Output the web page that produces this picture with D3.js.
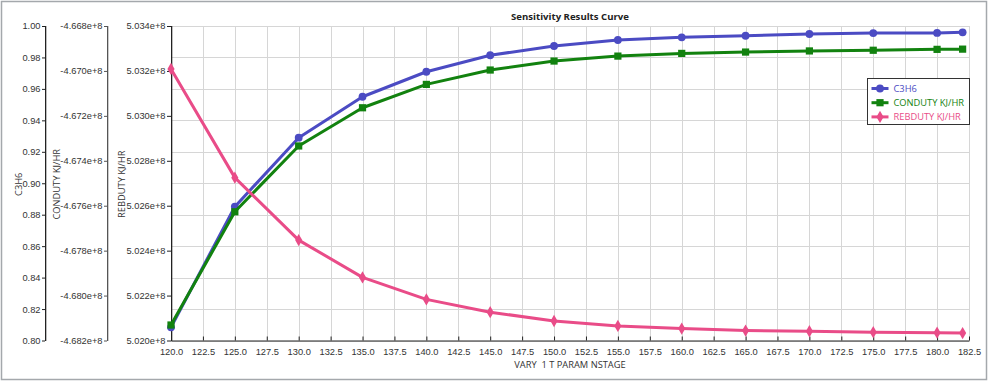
<!DOCTYPE html>
<meta charset="utf-8">
<script src="https://d3js.org/d3.v7.min.js"></script>
<style>
   body {
      margin: 0;
      padding: 0;
      background-color: white;
      font-family: "Segoe UI", "Open Sans", sans-serif;
   }
   .axis text { font-size: 9.3px; fill: #333; }
   .axis path, .axis line { stroke: #222; }
   .axis.grey path, .axis.grey line { stroke: #555; }
</style>
<body>
<svg id="chart" width="993" height="382"></svg>
<script>
   // Sensitivity results
   var stages = [120, 125, 130, 135, 140, 145, 150, 155, 160, 165, 170, 175, 180, 182];
   var c3h6 = [0.8084, 0.8851, 0.9290, 0.9550, 0.9709, 0.9814, 0.9873, 0.9911, 0.9928, 0.9938, 0.9949, 0.9955, 0.9956, 0.9960];
   var conduty = [-468131000, -467627000, -467334000, -467164000, -467060000, -466996000, -466956000,
                  -466934000, -466922000, -466916000, -466911000, -466908000, -466904000, -466903000];
   var rebduty = [503209000, 502725000, 502447000, 502281000, 502183000, 502126000, 502087000,
                  502065000, 502053000, 502044000, 502041000, 502037000, 502035000, 502033000];

   var xTicks = [120, 122.5, 125, 127.5, 130, 132.5, 135, 137.5, 140, 142.5, 145, 147.5, 150, 152.5, 155,
                 157.5, 160, 162.5, 165, 167.5, 170, 172.5, 175, 177.5, 180, 182.5];
   var c3h6Ticks = [0.80, 0.82, 0.84, 0.86, 0.88, 0.90, 0.92, 0.94, 0.96, 0.98, 1.00];
   var condTicks = [-468200000, -468000000, -467800000, -467600000, -467400000, -467200000, -467000000, -466800000];
   var rebTicks = [502000000, 502200000, 502400000, 502600000, 502800000, 503000000, 503200000, 503400000];

   var seriesNames = ["C3H6", "CONDUTY KJ/HR", "REBDUTY KJ/HR"];
   var colors = ["#4b4bc3", "#12820f", "#e94c88"];

   var svg = d3.select("#chart");
   var plotLeft = 171, plotRight = 969, plotTop = 26, plotBottom = 340.5;

   // outer frame
   svg.append("rect")
      .attr("x", 1.5).attr("y", 1.5)
      .attr("width", 985).attr("height", 378)
      .attr("fill", "white")
      .attr("stroke", "#a4a8ac")
      .attr("stroke-width", 1.5);

   var x = d3.scaleLinear().domain([120, 182.5]).range([plotLeft, plotRight]);
   var yC = d3.scaleLinear().domain([0.8, 1.0]).range([plotBottom, plotTop]);
   var yCond = d3.scaleLinear().domain([-468200000, -466800000]).range([plotBottom, plotTop]);
   var yReb = d3.scaleLinear().domain([502000000, 503400000]).range([plotBottom, plotTop]);

   var sci = function (d) { return d3.format(".3e")(d).replace("\u2212", "-"); };

   // grid
   var grid = svg.append("g");
   grid.selectAll("hline")
      .data(c3h6Ticks)
      .enter().append("line")
      .attr("x1", plotLeft).attr("x2", plotRight)
      .attr("y1", function (d) { return Math.round(yC(d)) + 0.5; })
      .attr("y2", function (d) { return Math.round(yC(d)) + 0.5; })
      .attr("stroke", "#d6d6d6");
   grid.selectAll("vline")
      .data(xTicks)
      .enter().append("line")
      .attr("y1", plotTop).attr("y2", plotBottom)
      .attr("x1", function (d) { return Math.round(x(d)) + 0.5; })
      .attr("x2", function (d) { return Math.round(x(d)) + 0.5; })
      .attr("stroke", "#d6d6d6");

   // axes
   var axisDefs = [
      { pos: 45, scale: yC, ticks: c3h6Ticks, fmt: d3.format(".2f"), cls: "axis", color: "#222", tick: 3 },
      { pos: 107, scale: yCond, ticks: condTicks, fmt: sci, cls: "axis grey", color: "#555", tick: 3 },
      { pos: plotLeft, scale: yReb, ticks: rebTicks, fmt: sci, cls: "axis", color: "#222", tick: 4 }
   ];
   axisDefs.forEach(function (a) {
      svg.append("g")
         .attr("class", a.cls)
         .attr("transform", "translate(" + a.pos + ",0)")
         .call(d3.axisLeft(a.scale).tickValues(a.ticks).tickSize(a.tick).tickSizeOuter(0).tickPadding(1.5)
            .tickFormat(a.fmt));
      svg.append("rect")
         .attr("x", a.pos).attr("y", plotTop)
         .attr("width", 1.3).attr("height", plotBottom - plotTop + 0.5)
         .attr("fill", a.color);
   });

   svg.append("g")
      .attr("class", "axis")
      .attr("transform", "translate(0," + plotBottom + ")")
      .call(d3.axisBottom(x).tickValues(xTicks).tickSize(-4).tickSizeOuter(0).tickPadding(8)
         .tickFormat(d3.format(".1f")));

   // axis titles
   var titles = [["C3H6", 18], ["CONDUTY KJ/HR", 56], ["REBDUTY KJ/HR", 121]];
   titles.forEach(function (t) {
      svg.append("text")
         .attr("transform", "translate(" + t[1] + "," + ((plotTop + plotBottom) / 2 + 1) + ") rotate(-90)")
         .attr("text-anchor", "middle")
         .attr("dominant-baseline", "central")
         .style("font-size", "9.3px")
         .style("fill", "#333")
         .text(t[0]);
   });

   svg.append("text")
      .attr("x", (plotLeft + plotRight) / 2).attr("y", 368)
      .attr("text-anchor", "middle")
      .style("font-size", "9.3px")
      .style("fill", "#333")
      .style("white-space", "pre")
      .text("VARY  1 T PARAM NSTAGE");

   svg.append("text")
      .attr("x", (plotLeft + plotRight) / 2).attr("y", 20)
      .attr("text-anchor", "middle")
      .style("font-size", "9.6px")
      .style("font-weight", "bold")
      .style("fill", "#222")
      .text("Sensitivity Results Curve");

   // series
   var series = [
      { vals: c3h6, y: yC, sym: d3.symbolCircle, size: 48 },
      { vals: conduty, y: yCond, sym: d3.symbolSquare, size: 52 },
      { vals: rebduty, y: yReb, sym: d3.symbolDiamond, size: 44 }
   ];

   series.forEach(function (s, i) {
      var pts = stages.map(function (st, j) { return [x(st), s.y(s.vals[j])]; });
      svg.append("path")
         .datum(pts)
         .attr("fill", "none")
         .attr("stroke", colors[i])
         .attr("stroke-width", 3)
         .attr("stroke-linejoin", "round")
         .attr("d", d3.line());
      svg.selectAll(".m" + i)
         .data(pts)
         .enter().append("path")
         .attr("class", "m" + i)
         .attr("transform", function (d) { return "translate(" + d[0] + "," + d[1] + ")"; })
         .attr("d", d3.symbol().type(s.sym).size(s.size))
         .attr("fill", colors[i]);
   });

   // legend
   var lg = svg.append("g").attr("transform", "translate(867.5,78.5)");
   lg.append("rect")
      .attr("width", 102).attr("height", 46)
      .attr("fill", "white")
      .attr("stroke", "#333");
   series.forEach(function (s, i) {
      var yy = 10 + i * 14.2;
      lg.append("line")
         .attr("x1", 4).attr("x2", 21)
         .attr("y1", yy).attr("y2", yy)
         .attr("stroke", colors[i]).attr("stroke-width", 3);
      lg.append("path")
         .attr("transform", "translate(12.5," + yy + ")")
         .attr("d", d3.symbol().type(s.sym).size(s.size))
         .attr("fill", colors[i]);
      lg.append("text")
         .attr("x", 26).attr("y", yy)
         .attr("dominant-baseline", "central")
         .style("font-size", "9.3px")
         .style("fill", colors[i])
         .text(seriesNames[i]);
   });
</script>
</body>
